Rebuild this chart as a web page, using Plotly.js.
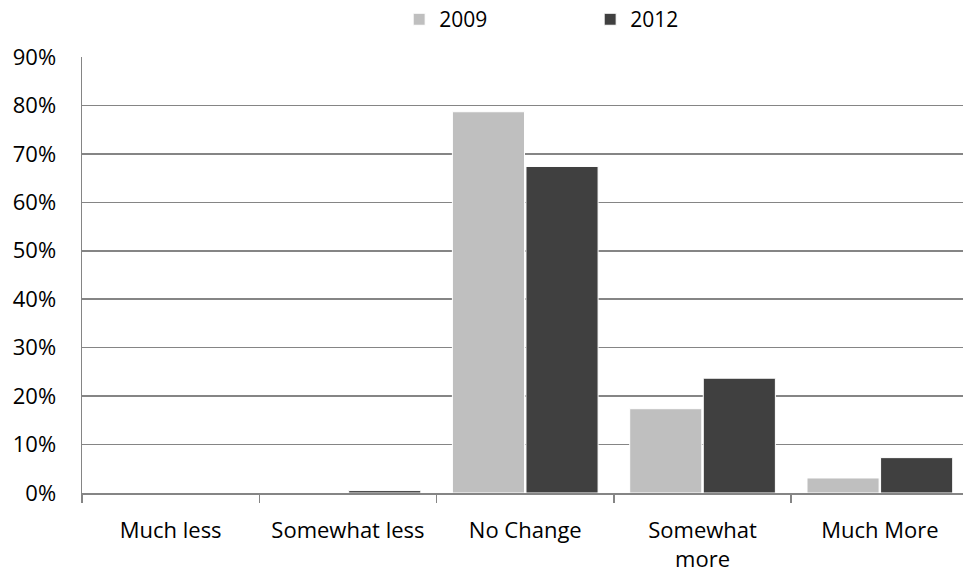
<!DOCTYPE html>
<html>
<head>
<meta charset="utf-8">
<script src="https://cdn.plot.ly/plotly-3.0.1.min.js"></script>
<style>html,body{margin:0;padding:0;background:#fff;}#chart{width:963px;height:573px;}</style>
</head>
<body>
<div id="chart"></div>
<script>
const categories = ["Much less", "Somewhat less", "No Change", "Somewhat<br>more", "Much More"];
const values2009 = [0, 0, 0.787, 0.174, 0.031];
const values2012 = [0, 0.005, 0.674, 0.237, 0.073];
const seriesNames = ["2009", "2012"];
const yTickVals = [0, 0.1, 0.2, 0.3, 0.4, 0.5, 0.6, 0.7, 0.8, 0.9];

const FONT = "'Open Sans', 'Liberation Sans', sans-serif";
const gridColor = "#858585";

const traces = [
  {type: "bar", name: seriesNames[0], x: categories, y: values2009,
   marker: {color: "#bfbfbf", line: {color: "#ffffff", width: 1}}},
  {type: "bar", name: seriesNames[1], x: categories, y: values2012,
   marker: {color: "#404040", line: {color: "#ffffff", width: 1}}}
];

const layout = {
  width: 963, height: 573,
  margin: {l: 82, r: 0, t: 57, b: 80, pad: 0},
  paper_bgcolor: "#ffffff", plot_bgcolor: "#ffffff",
  font: {family: FONT, size: 22, color: "#000000"},
  barmode: "group", bargap: 0.17, bargroupgap: 0.02,
  showlegend: true,
  legend: {orientation: "h", x: 0.36, xanchor: "left", y: 0.93, yanchor: "bottom",
           yref: "container", font: {family: FONT, size: 21, color: "#000"},
           entrywidth: 146, entrywidthmode: "pixels", traceorder: "normal"},
  xaxis: {type: "category", range: [-0.5, 4.469], tickson: "boundaries",
          ticks: "outside", ticklen: 8, tickwidth: 1.5, tickcolor: gridColor,
          showline: true, linecolor: gridColor, linewidth: 1.5,
          showgrid: false, zeroline: false, ticklabelstandoff: 17,
          tickfont: {family: FONT, size: 22, color: "#000"}},
  yaxis: {range: [0, 0.9], tickvals: yTickVals, tickformat: ".0%",
          showgrid: true, gridcolor: gridColor, gridwidth: 1.5,
          showline: true, linecolor: gridColor, linewidth: 1.5,
          zeroline: false, ticks: "", ticklabelstandoff: 20,
          tickfont: {family: FONT, size: 22, color: "#000"}}
};

Plotly.newPlot("chart", traces, layout, {displayModeBar: false, staticPlot: true});
</script>
</body>
</html>
